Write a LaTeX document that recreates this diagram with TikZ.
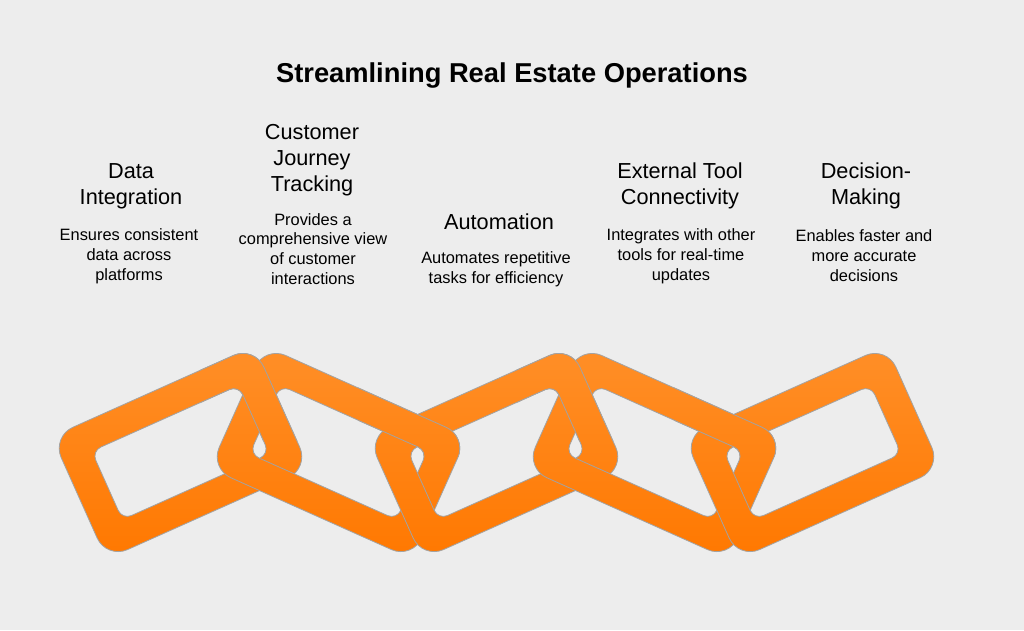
\documentclass[tikz,border=0pt]{standalone}
\usepackage{fontspec}
\setmainfont{Liberation Sans}
\definecolor{bgc}{HTML}{EDEDED}
\definecolor{linktop}{HTML}{FF8F28}
\definecolor{linkbot}{HTML}{FF7800}
\definecolor{linkedge}{HTML}{A3A3A3}
\tikzset{
  chainband/.style={draw=linkedge,line width=0.8pt,top color=linktop,bottom color=linkbot,even odd rule},
  headtext/.style={align=center,inner sep=0pt,font=\fontsize{21.7}{26}\selectfont,text=black},
  desctext/.style={align=center,inner sep=0pt,font=\fontsize{16.4}{19.8}\selectfont,text=black},
  titletext/.style={inner sep=0pt,font=\fontsize{27.3}{32}\selectfont\bfseries,text=black}
}
% #1 centre x, #2 rotation
\newcommand\chainlink[2]{%
  \begin{scope}[shift={(#1,452.5)},rotate=#2]
    \path[chainband,rounded corners=23pt] (-111,-67) rectangle (111,67)
      [rounded corners=10pt] (-80.5,-37.5) rectangle (80.5,37.5);
  \end{scope}}
\newcommand\chainover[3]{%
  \begin{scope}
    \clip (#3-60,340) rectangle (#3+60,#1);
    \chainlink{#2}{\ifdim#1pt<445pt 24.1\else -24.1\fi}
  \end{scope}}
\begin{document}
\begin{tikzpicture}[x=1pt,y=-1pt]
\useasboundingbox (0,0) rectangle (1024,630);
\fill[bgc] (0,0) rectangle (1024,630);
\node[titletext] (title) at (512,75) {Streamlining Real Estate Operations};

\node[headtext] (h1) at (131,186) {Data\\Integration};
\node[desctext] (d1) at (129,256.5) {Ensures consistent\\data across\\platforms};
\node[headtext] (h2) at (312,160) {Customer\\Journey\\Tracking};
\node[desctext] (d2) at (313,249) {Provides a\\comprehensive view\\of customer\\interactions};
\node[headtext] (h3) at (499,222) {Automation};
\node[desctext] (d3) at (496,269.5) {Automates repetitive\\tasks for efficiency};
\node[headtext] (h4) at (680,186) {External Tool\\Connectivity};
\node[desctext] (d4) at (681,256.5) {Integrates with other\\tools for real-time\\updates};
\node[headtext] (h5) at (866,186) {Decision-\\Making};
\node[desctext] (d5) at (864,255.5) {Enables faster and\\more accurate\\decisions};

\chainlink{180.5}{24.1}
\chainlink{338.5}{-24.1}
\chainover{440}{180.5}{260}
\chainlink{496.5}{24.1}
\chainover{456}{338.5}{418}
\chainlink{654.5}{-24.1}
\chainover{440}{496.5}{576}
\chainlink{812.5}{24.1}
\chainover{456}{654.5}{734}
\end{tikzpicture}
\end{document}
